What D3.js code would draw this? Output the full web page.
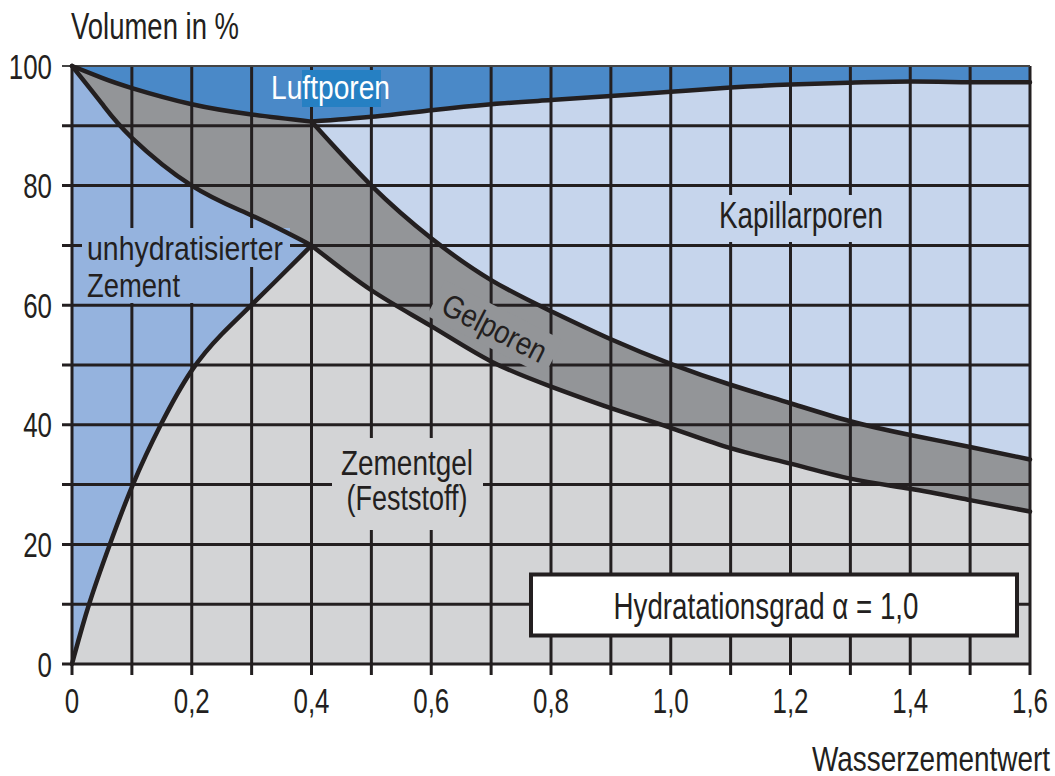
<!DOCTYPE html>
<html>
<head>
<meta charset="utf-8">
<script src="https://cdn.jsdelivr.net/npm/d3@7"></script>
<style>
  body { margin: 0; background: #fff; }
  text { font-family: 'Liberation Sans', Arial, sans-serif; fill: #231f20; }
</style>
</head>
<body>
<div id="chart"></div>
<script>
// Volumenanteile des Zementsteins abhängig vom Wasserzementwert (alpha = 1,0)

const WIDTH = 1055;
const HEIGHT = 776;
const MARGIN = { top: 66, right: 25, bottom: 112, left: 72 };
const PLOT_W = WIDTH - MARGIN.left - MARGIN.right;   // 958
const PLOT_H = HEIGHT - MARGIN.top - MARGIN.bottom;  // 598
const NARROW = 0.74; // condensed look for tick labels

const INK = '#231f20';
const COLORS = {
  luft: '#4a89c8',
  luftLabel: '#2680c3',
  kapillar: '#c6d5ec',
  gelporen: '#939598',
  zement: '#95b3de',
  zementgel: '#d3d4d6'
};

// Grenzlinien [w/z, Volumen %]
const luftGrenzeLinks = [[0, 100], [0.05, 98.0], [0.1, 96.3], [0.2, 93.6], [0.3, 91.9], [0.4, 90.7]];
const luftGrenzeRechts = [[0.4, 90.7], [0.5, 91.5], [0.6, 92.6], [0.7, 93.6], [0.8, 94.3], [0.9, 95.0],
  [1.0, 95.7], [1.1, 96.4], [1.2, 96.9], [1.3, 97.2], [1.4, 97.4], [1.5, 97.3], [1.6, 97.3]];
const kapillarGrenze = [[0.4, 90.7], [0.5, 80.0], [0.6, 71.2], [0.7, 64.2], [0.8, 59.0], [0.9, 54.3],
  [1.0, 50.2], [1.1, 46.7], [1.2, 43.6], [1.3, 40.6], [1.4, 38.3], [1.5, 36.3], [1.6, 34.2]];
const zementGrenze = [[0, 100], [0.05, 93.7], [0.1, 88.0], [0.2, 80.0], [0.3, 75.0], [0.4, 70.0]];
const gelGrenze = [[0.4, 70.0], [0.5, 62.5], [0.6, 56.5], [0.7, 50.6], [0.8, 46.4], [0.9, 42.8],
  [1.0, 39.5], [1.1, 36.1], [1.2, 33.5], [1.3, 31.0], [1.4, 29.3], [1.5, 27.4], [1.6, 25.5]];
const feststoffGrenze = [[0, 0], [0.027, 10], [0.063, 20], [0.1, 30], [0.147, 40], [0.2, 49.7],
  [0.25, 55.3], [0.3, 60.0], [0.4, 70.0]];

// Achsen
const xGrid = d3.range(0, 17).map(i => i / 10);
const yGrid = d3.range(0, 11).map(i => i * 10);
const xTickValues = [0, 0.2, 0.4, 0.6, 0.8, 1.0, 1.2, 1.4, 1.6];
const xTickLabels = ['0', '0,2', '0,4', '0,6', '0,8', '1,0', '1,2', '1,4', '1,6'];
const yTickValues = [0, 20, 40, 60, 80, 100];
const yTickLabels = ['0', '20', '40', '60', '80', '100'];

const svg = d3.select('#chart').append('svg')
  .attr('width', WIDTH)
  .attr('height', HEIGHT);

const x = d3.scaleLinear().domain([0, 1.6]).range([MARGIN.left, MARGIN.left + PLOT_W]);
const y = d3.scaleLinear().domain([0, 100]).range([MARGIN.top + PLOT_H, MARGIN.top]);

// feststoff curve bends hard near 0.2, basis smooths the read-off points
const curveFor = pts => pts === feststoffGrenze ? d3.curveBasis : d3.curveNatural;

const areaBelow = d3.area()
  .x(d => x(d[0]))
  .y0(y(0))
  .y1(d => y(d[1]));

const line = d3.line()
  .x(d => x(d[0]))
  .y(d => y(d[1]));

// squeeze a text to a width, the original uses a condensed face
function fit(sel, width) {
  sel.attr('textLength', width).attr('lengthAdjust', 'spacingAndGlyphs');
  return sel;
}

// Flächen, von oben nach unten übereinander gelegt
svg.append('rect')
  .attr('x', x(0)).attr('y', y(100))
  .attr('width', x(1.6) - x(0)).attr('height', y(0) - y(100))
  .attr('fill', COLORS.luft);

const fills = [
  [luftGrenzeLinks, COLORS.kapillar],
  [luftGrenzeRechts, COLORS.kapillar],
  [luftGrenzeLinks, COLORS.gelporen],
  [kapillarGrenze, COLORS.gelporen],
  [zementGrenze, COLORS.zement],
  [feststoffGrenze, COLORS.zementgel],
  [gelGrenze, COLORS.zementgel]
];
svg.append('g').selectAll('path')
  .data(fills)
  .enter()
  .append('path')
  .attr('d', d => areaBelow.curve(curveFor(d[0]))(d[0]))
  .attr('fill', d => d[1])
  .attr('stroke', d => d[1])
  .attr('stroke-width', 0.8);

// Gitter
const grid = svg.append('g').attr('stroke', INK).attr('stroke-width', 3);

grid.selectAll('.vgrid')
  .data(xGrid)
  .enter()
  .append('line')
  .attr('class', 'vgrid')
  .attr('x1', d => x(d)).attr('x2', d => x(d))
  .attr('y1', y(100)).attr('y2', y(0) + 11);

grid.selectAll('.hgrid')
  .data(yGrid)
  .enter()
  .append('line')
  .attr('class', 'hgrid')
  .attr('x1', x(0) - 10).attr('x2', x(1.6))
  .attr('y1', d => y(d)).attr('y2', d => y(d))
  .attr('stroke-width', d => d === 100 ? 2 : 3)
  .attr('stroke', d => d === 100 ? '#444' : INK);

// Aussparungen im Gitter hinter den Beschriftungen
const gaps = svg.append('g');
gaps.append('rect').attr('x', 302).attr('y', 70).attr('width', 79).attr('height', 37).attr('fill', COLORS.luftLabel);
gaps.append('rect').attr('x', 712).attr('y', 195).attr('width', 178).attr('height', 47).attr('fill', COLORS.kapillar);
gaps.append('rect').attr('x', 82).attr('y', 228).attr('width', 208).attr('height', 39).attr('fill', COLORS.zement);
gaps.append('rect').attr('x', 82).attr('y', 228).attr('width', 118).attr('height', 75).attr('fill', COLORS.zement);
gaps.append('rect').attr('x', 332).attr('y', 438).attr('width', 151).attr('height', 92).attr('fill', COLORS.zementgel);
gaps.append('rect')
  .attr('x', -66).attr('y', -20).attr('width', 132).attr('height', 40)
  .attr('fill', COLORS.gelporen)
  .attr('transform', `translate(${x(0.706)},${y(56.2)}) rotate(27)`);

// Grenzlinien
svg.append('g').selectAll('path')
  .data([luftGrenzeLinks, luftGrenzeRechts, kapillarGrenze, zementGrenze, gelGrenze, feststoffGrenze])
  .enter()
  .append('path')
  .attr('d', d => line.curve(curveFor(d))(d))
  .attr('fill', 'none')
  .attr('stroke', INK)
  .attr('stroke-width', 4.5)
  .attr('stroke-linejoin', 'round')
  .attr('stroke-linecap', 'round');

// Tick labels
svg.append('g').selectAll('text')
  .data(xTickValues)
  .enter()
  .append('text')
  .attr('x', d => x(d))
  .attr('y', y(0) + 49)
  .attr('text-anchor', 'middle')
  .attr('font-size', 35)
  .text((d, i) => xTickLabels[i])
  .each(function() { fit(d3.select(this), this.getComputedTextLength() * NARROW); });

svg.append('g').selectAll('text')
  .data(yTickValues)
  .enter()
  .append('text')
  .attr('x', 52)
  .attr('y', d => y(d) + 12.5)
  .attr('text-anchor', 'end')
  .attr('font-size', 35)
  .text((d, i) => yTickLabels[i])
  .each(function() { fit(d3.select(this), this.getComputedTextLength() * NARROW); });

// Achsentitel
fit(svg.append('text').attr('x', 71).attr('y', 39).attr('font-size', 36).text('Volumen in %'), 168);
fit(svg.append('text').attr('x', 1050).attr('y', 771).attr('text-anchor', 'end').attr('font-size', 35).text('Wasserzementwert'), 238);

// Flächenbeschriftungen
fit(svg.append('text').attr('x', 271).attr('y', 99).attr('font-size', 34).style('fill', '#fff').text('Luftporen'), 119);
fit(svg.append('text').attr('x', 719).attr('y', 228).attr('font-size', 36).text('Kapillarporen'), 164);
fit(svg.append('text').attr('x', 87).attr('y', 260).attr('font-size', 34).text('unhydratisierter'), 196);
fit(svg.append('text').attr('x', 87).attr('y', 297).attr('font-size', 34).text('Zement'), 93);
fit(svg.append('text').attr('x', 407).attr('y', 475).attr('text-anchor', 'middle').attr('font-size', 35).text('Zementgel'), 132);
fit(svg.append('text').attr('x', 407).attr('y', 510).attr('text-anchor', 'middle').attr('font-size', 35).text('(Feststoff)'), 121);
fit(svg.append('text')
  .attr('text-anchor', 'middle')
  .attr('dy', '0.35em')
  .attr('font-size', 32)
  .attr('transform', `translate(${x(0.706)},${y(56.2)}) rotate(27)`)
  .text('Gelporen'), 113);

// Hydratationsgrad box
svg.append('rect')
  .attr('x', 531).attr('y', 574.5).attr('width', 486).attr('height', 61)
  .attr('fill', '#fff').attr('stroke', INK).attr('stroke-width', 4);
fit(svg.append('text')
  .attr('x', 766).attr('y', 619)
  .attr('text-anchor', 'middle')
  .attr('font-size', 37)
  .text('Hydratationsgrad α = 1,0'), 305);
</script>
</body>
</html>
